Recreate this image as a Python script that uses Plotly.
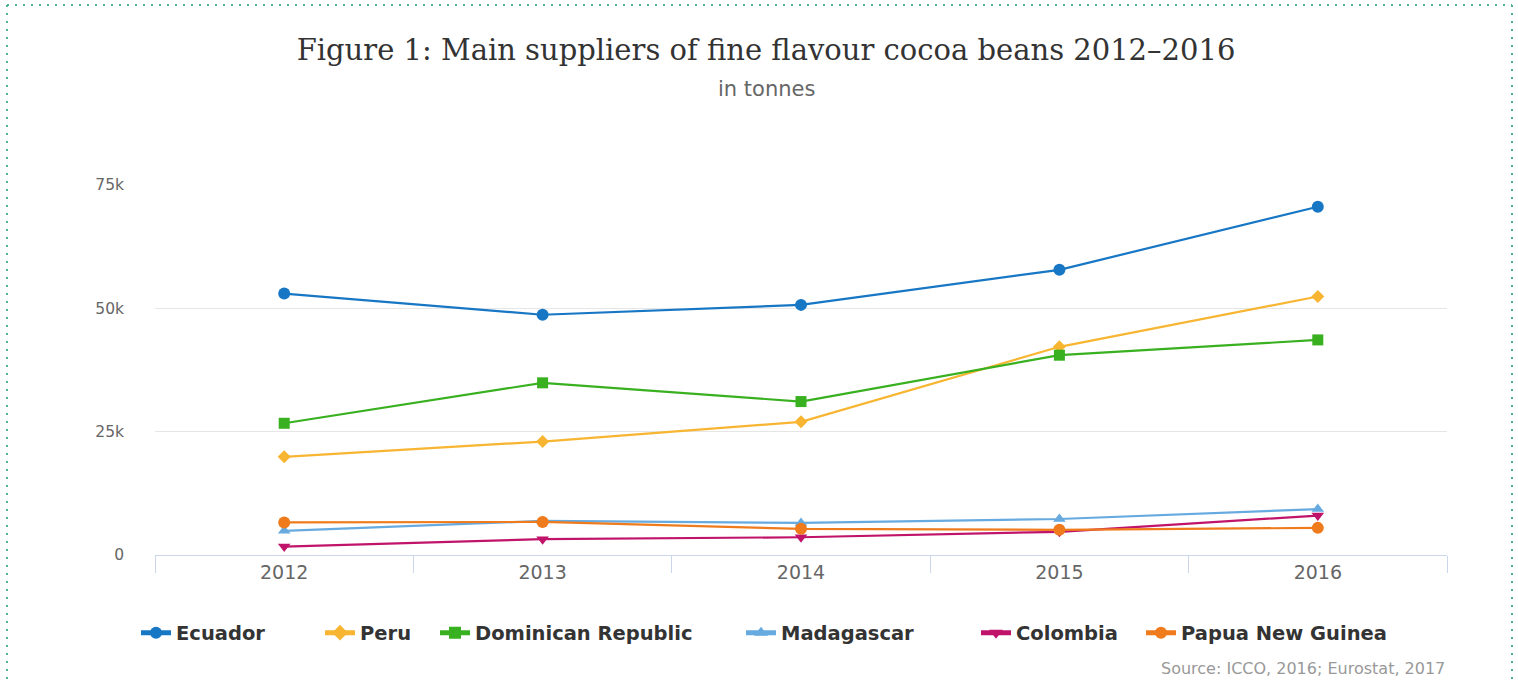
import plotly.graph_objects as go

# Years on the category axis
years = ["2012", "2013", "2014", "2015", "2016"]

# Tonnes of fine flavour cocoa beans per supplier
ecuador = [53000, 48700, 50700, 57800, 70600]
peru = [19900, 23000, 27000, 42200, 52400]
dominican_republic = [26700, 34900, 31100, 40500, 43600]
madagascar = [4900, 6900, 6500, 7300, 9300]
colombia = [1700, 3200, 3600, 4700, 8000]
papua_new_guinea = [6600, 6700, 5300, 5100, 5500]

# Y axis ticks
y_tickvals = [0, 25000, 50000, 75000]
y_ticktext = ["0", "25k", "50k", "75k"]

# Page geometry (pixels)
W, H = 1518, 681
ML, MR, MT, MB = 155, 71, 185, 126
PW, PH = W - ML - MR, H - MT - MB


def px_x(px):
    return (px - ML) / PW


def px_y(py):
    return (H - MB - py) / PH


series = [
    ("Ecuador", ecuador, "#1777c4", "circle", 12, 178),
    ("Peru", peru, "#f7b531", "diamond", 10, 362),
    ("Dominican Republic", dominican_republic, "#38b01f", "square", 11, 477),
    ("Madagascar", madagascar, "#66aae0", "triangle-up", 11, 783),
    ("Colombia", colombia, "#c0136a", "triangle-down", 11, 1018),
    ("Papua New Guinea", papua_new_guinea, "#ef7b1c", "circle", 12, 1183),
]

fig = go.Figure()
layout_legends = {}
for i, (name, vals, color, symbol, size, text_x) in enumerate(series):
    key = "legend" if i == 0 else f"legend{i + 1}"
    fig.add_trace(go.Scatter(
        x=years, y=vals, name=name, mode="lines+markers",
        line=dict(color=color, width=2.2),
        marker=dict(symbol=symbol, size=size, color=color, line=dict(width=0)),
        legend=key, showlegend=True,
    ))
    layout_legends[key] = dict(
        x=px_x(text_x - 42), xanchor="left",
        y=px_y(633), yanchor="middle",
        orientation="h", bgcolor="rgba(0,0,0,0)",
        font=dict(family="DejaVu Sans", size=19.5, color="#333333", weight="bold"),
        itemsizing="constant", visible=True,
    )

border = "#4fb396"
shapes = [
    dict(type="line", xref="paper", yref="paper", x0=px_x(7), x1=px_x(1512),
         y0=px_y(5), y1=px_y(5), line=dict(color=border, width=2, dash="2px,6px")),
    dict(type="line", xref="paper", yref="paper", x0=px_x(7), x1=px_x(7),
         y0=px_y(5), y1=px_y(681), line=dict(color=border, width=2, dash="2px,6px")),
    dict(type="line", xref="paper", yref="paper", x0=px_x(1512), x1=px_x(1512),
         y0=px_y(5), y1=px_y(681), line=dict(color=border, width=2, dash="2px,6px")),
]

fig.update_layout(
    width=W, height=H,
    showlegend=True,
    margin=dict(l=ML, r=MR, t=MT, b=MB),
    paper_bgcolor="white", plot_bgcolor="white",
    title=dict(
        text="Figure 1: Main suppliers of fine flavour cocoa beans 2012\u20132016",
        x=766 / W, xref="container", xanchor="center",
        y=1 - 50 / H, yref="container", yanchor="middle",
        font=dict(family="DejaVu Serif", size=29, color="#333333"),
    ),
    annotations=[
        dict(text="in tonnes", xref="paper", yref="paper",
             x=px_x(766), y=px_y(89), xanchor="center", yanchor="middle",
             showarrow=False, font=dict(family="DejaVu Sans", size=21, color="#666666")),
        dict(text="Source: ICCO, 2016; Eurostat, 2017", xref="paper", yref="paper",
             x=1, y=px_y(668), xanchor="right", yanchor="middle",
             showarrow=False, font=dict(family="DejaVu Sans", size=16, color="#999999")),
    ],
    shapes=shapes,
    xaxis=dict(
        type="category", range=[-0.5, 4.5], tickson="boundaries",
        ticks="outside", ticklen=17, tickcolor="#ccd6eb", tickwidth=1,
        showline=True, linecolor="#ccd6eb", linewidth=1,
        showgrid=False, zeroline=False,
        tickfont=dict(family="DejaVu Sans", size=19, color="#666666"),
    ),
    yaxis=dict(
        range=[0, 75000], tickvals=y_tickvals, ticktext=y_ticktext,
        showgrid=True, gridcolor="#e6e6e6", gridwidth=1,
        zeroline=False, showline=False, ticks="",
        ticklabelstandoff=30,
        tickfont=dict(family="DejaVu Sans", size=15.5, color="#666666"),
    ),
    **layout_legends,
)

fig.write_html("out.html")
